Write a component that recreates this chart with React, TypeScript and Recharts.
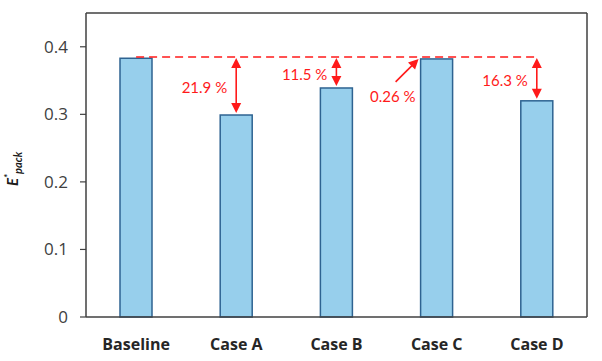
import React from 'react';
import { BarChart, Bar, XAxis, YAxis, ReferenceLine } from 'recharts';

const categories = ['Baseline', 'Case A', 'Case B', 'Case C', 'Case D'];
const values = [0.383, 0.299, 0.339, 0.382, 0.32];
const reductionLabels = ['', '21.9 %', '11.5 %', '0.26 %', '16.3 %'];
const referenceValue = 0.385;
const yTicks = [0, 0.1, 0.2, 0.3, 0.4];

const annotationKind = ['none', 'vertical', 'vertical', 'diagonal', 'vertical'];

const data = categories.map((name, i) => ({
  name,
  value: values[i],
  label: reductionLabels[i],
  kind: annotationKind[i],
}));

const RED = '#ff1a1a';
const FONT = 'Lato, "Open Sans", sans-serif';
const FONT2 = '"Open Sans", Lato, sans-serif';

function BarWithAnnotation(props: any) {
  const { x, y, width, height, payload } = props;
  const bottom = y + height;
  const yRef = bottom - (height * referenceValue) / payload.value;
  const cx = x + width / 2;
  const els: any[] = [];
  els.push(
    <rect key="r" x={x} y={y} width={width} height={height} fill="#97cfec" stroke="#2e6391" strokeWidth={1.5} />
  );
  if (payload.kind === 'vertical') {
    const t1 = yRef + 1;
    const t2 = y - 2;
    els.push(
      <g key="a">
        <line x1={cx} x2={cx} y1={t1 + 8} y2={t2 - 8} stroke={RED} strokeWidth={1.6} />
        <polygon points={`${cx},${t1} ${cx - 5},${t1 + 10} ${cx + 5},${t1 + 10}`} fill={RED} />
        <polygon points={`${cx},${t2} ${cx - 5},${t2 - 10} ${cx + 5},${t2 - 10}`} fill={RED} />
        <text
          x={cx - 9}
          y={(t1 + t2) / 2 + 2}
          textAnchor="end"
          dominantBaseline="central"
          fill={RED}
          fontSize={15}
          fontFamily={FONT}
        >
          {payload.label}
        </text>
      </g>
    );
  } else if (payload.kind === 'diagonal') {
    const tx = x - 2;
    const ty = y;
    const sx = x - 25;
    const sy = y + 23;
    const len = Math.hypot(tx - sx, ty - sy);
    const ux = (tx - sx) / len;
    const uy = (ty - sy) / len;
    const bx = tx - ux * 10;
    const by = ty - uy * 10;
    const px = -uy * 5;
    const py = ux * 5;
    els.push(
      <g key="a">
        <line x1={sx} y1={sy} x2={bx + ux * 2} y2={by + uy * 2} stroke={RED} strokeWidth={1.6} />
        <polygon points={`${tx},${ty} ${bx + px},${by + py} ${bx - px},${by - py}`} fill={RED} />
        <text
          x={x - 5}
          y={y + 37}
          textAnchor="end"
          dominantBaseline="central"
          fill={RED}
          fontSize={15}
          fontFamily={FONT}
        >
          {payload.label}
        </text>
      </g>
    );
  }
  return <g>{els}</g>;
}

function YLabel() {
  return (
    <text
      transform="translate(18,186) rotate(-90)"
      textAnchor="start"
      fontFamily={FONT}
      fontWeight="bold"
      fontStyle="italic"
      fill="#1a1a1a"
    >
      <tspan fontSize={15}>E</tspan>
      <tspan fontSize={10} dy={-7}>*</tspan>
      <tspan fontSize={11} dy={11}>pack</tspan>
    </text>
  );
}

export default function App() {
  return (
    <div style={{ position: 'absolute', left: 0, top: 0, background: '#fff' }}>
      <BarChart
        width={602}
        height={361}
        data={data}
        margin={{ top: 12, right: 14, bottom: 14, left: 0 }}
        barCategoryGap={0}
      >
        <XAxis
          dataKey="name"
          height={30}
          tickLine={false}
          tickSize={6}
          tickMargin={16}
          axisLine={{ stroke: '#404040', strokeWidth: 1.5 }}
          tick={{ fill: '#262626', fontSize: 16, fontWeight: 'bold', fontFamily: FONT2 }}
          interval={0}
        />
        <XAxis
          xAxisId="top"
          orientation="top"
          dataKey="name"
          height={1}
          tick={false}
          tickLine={false}
          axisLine={{ stroke: '#404040', strokeWidth: 1.5 }}
        />
        <YAxis
          width={86}
          domain={[0, 0.45]}
          ticks={yTicks}
          tickSize={6}
          tickMargin={12}
          tickFormatter={(v: number) => (v === 0 ? '0' : String(v))}
          axisLine={{ stroke: '#404040', strokeWidth: 1.5 }}
          tickLine={{ stroke: '#404040', strokeWidth: 1.2 }}
          tick={{ fill: '#404040', fontSize: 17, fontFamily: FONT2 }}
          label={{ content: () => <YLabel /> }}
        />
        <YAxis
          yAxisId="right"
          orientation="right"
          width={1}
          domain={[0, 0.45]}
          tick={false}
          tickLine={false}
          axisLine={{ stroke: '#404040', strokeWidth: 1.5 }}
        />
        <ReferenceLine
          segment={[
            { x: 'Baseline', y: referenceValue },
            { x: 'Case D', y: referenceValue },
          ]}
          stroke={RED}
          strokeWidth={1.5}
          strokeDasharray="8 5"
          ifOverflow="visible"
        />
        <Bar dataKey="value" barSize={32} isAnimationActive={false} shape={<BarWithAnnotation />} />
      </BarChart>
    </div>
  );
}
